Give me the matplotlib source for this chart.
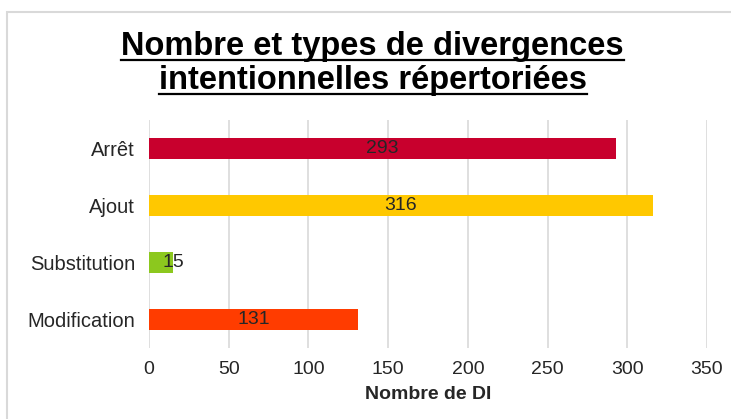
import matplotlib.pyplot as plt
from matplotlib.patches import Rectangle
from matplotlib.lines import Line2D

# data
categories = ['Arrêt', 'Ajout', 'Substitution', 'Modification']
values = [293, 316, 15, 131]
colors = ['#C8002D', '#FFC800', '#8CC81E', '#FF3C00']
xticks = [0, 50, 100, 150, 200, 250, 300, 350]

plt.rcParams['font.family'] = ['Liberation Sans', 'DejaVu Sans']

fig = plt.figure(figsize=(7.31, 4.19), dpi=100)
ax = fig.add_axes([149 / 731, 1 - 348 / 419, 558 / 731, 228 / 419])

# frame around the chart
fig.add_artist(Rectangle((7 / 731, -0.05), 1.0, 1 - 12 / 419 + 0.05,
                         transform=fig.transFigure, fill=False,
                         edgecolor='#d9d9d9', linewidth=1.5))

ypos = list(range(len(categories)))
ax.barh(ypos, values, height=0.36, color=colors, zorder=2)

# value labels, centred in the bar (pushed right when bar is tiny)
for y, v in zip(ypos, values):
    xl = v / 2 if v > 40 else v
    ax.text(xl, y, str(v), ha='center', va='center', fontsize=14,
            color='#262626', zorder=3)

ax.set_yticks(ypos)
ax.set_yticklabels(categories, fontsize=14.5, color='#262626')
ax.set_ylim(3.5, -0.5)
ax.set_xlim(0, 350)
ax.set_xticks(xticks)
ax.set_xticklabels([str(t) for t in xticks], fontsize=14, color='#262626')
ax.tick_params(axis='both', length=0)
ax.tick_params(axis='x', pad=9)
ax.tick_params(axis='y', pad=10)
ax.grid(axis='x', color='#d9d9d9', linewidth=1.2, zorder=0)
for s in ax.spines.values():
    s.set_visible(False)
ax.set_xlabel('Nombre de DI', fontsize=14, fontweight='bold',
              color='#262626', labelpad=6)

# title, underlined
t1 = fig.text(0.51, 1 - 47 / 419, 'Nombre et types de divergences',
              ha='center', va='center', fontsize=23.5, fontweight='bold',
              color='#000000')
t2 = fig.text(0.51, 1 - 81 / 419, 'intentionnelles répertoriées',
              ha='center', va='center', fontsize=23.5, fontweight='bold',
              color='#000000')

fig.canvas.draw()
r = fig.canvas.get_renderer()
inv = fig.transFigure.inverted()
for t in (t1, t2):
    bb = t.get_window_extent(renderer=r)
    (x0, y0), (x1, y1) = inv.transform([(bb.x0, bb.y0 + 2), (bb.x1, bb.y0 + 2)])
    fig.add_artist(Line2D([x0, x1], [y0, y1], transform=fig.transFigure,
                          color='#000000', linewidth=1.6))

plt.savefig('out.png', dpi=100)
